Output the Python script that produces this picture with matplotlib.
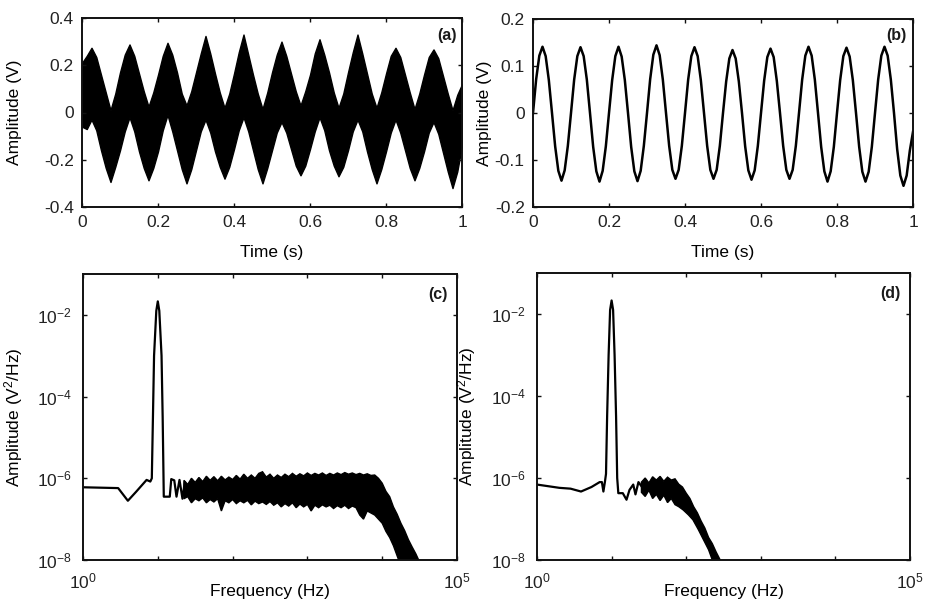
import numpy as np
import matplotlib
matplotlib.use("Agg")
import matplotlib.pyplot as plt
from matplotlib.ticker import FixedLocator, FuncFormatter, NullLocator

plt.rcParams['font.family'] = ['Liberation Sans', 'DejaVu Sans']
plt.rcParams['mathtext.fontset'] = 'custom'
plt.rcParams['mathtext.rm'] = 'Liberation Sans'
plt.rcParams['mathtext.it'] = 'Liberation Sans:italic'
plt.rcParams['mathtext.bf'] = 'Liberation Sans:bold'
plt.rcParams['text.color'] = '#1a1a1a'

# ---- panel (a): noisy signal, band envelope read every 1/8 cycle (12.5 ms)
a_upper = [
    0.21, 0.24, 0.274, 0.235, 0.16, 0.085, 0.01, 0.08,
    0.17, 0.245, 0.288, 0.24, 0.165, 0.09, 0.025, 0.085,
    0.16, 0.24, 0.295, 0.245, 0.17, 0.08, 0.03, 0.09,
    0.17, 0.25, 0.324, 0.25, 0.165, 0.085, 0.02, 0.08,
    0.165, 0.255, 0.33, 0.245, 0.16, 0.08, 0.015, 0.085,
    0.17, 0.245, 0.30, 0.24, 0.165, 0.09, 0.03, 0.09,
    0.16, 0.25, 0.31, 0.245, 0.17, 0.085, 0.02, 0.08,
    0.17, 0.255, 0.33, 0.25, 0.165, 0.08, 0.02, 0.085,
    0.165, 0.24, 0.274, 0.235, 0.16, 0.085, 0.015, 0.08,
    0.16, 0.235, 0.267, 0.23, 0.155, 0.08, 0.01, 0.075,
    0.12]
a_lower = [
    -0.06, -0.07, -0.03, -0.075, -0.16, -0.235, -0.294, -0.23,
    -0.16, -0.08, -0.02, -0.08, -0.165, -0.235, -0.287, -0.235,
    -0.165, -0.075, -0.01, -0.08, -0.16, -0.24, -0.30, -0.24,
    -0.16, -0.08, -0.03, -0.085, -0.165, -0.23, -0.28, -0.23,
    -0.155, -0.075, -0.02, -0.08, -0.16, -0.24, -0.30, -0.235,
    -0.16, -0.085, -0.04, -0.085, -0.155, -0.225, -0.266, -0.225,
    -0.155, -0.08, -0.02, -0.075, -0.16, -0.225, -0.27, -0.23,
    -0.16, -0.08, -0.03, -0.08, -0.165, -0.24, -0.30, -0.24,
    -0.165, -0.085, -0.03, -0.085, -0.16, -0.235, -0.287, -0.235,
    -0.165, -0.085, -0.04, -0.09, -0.17, -0.25, -0.32, -0.25,
    -0.14]
a_t = np.linspace(0, 1, len(a_upper))

# ---- panel (b): clean signal, 12 readings per cycle
b_values = [
    0.0, 0.072, 0.122, 0.141, 0.121, 0.070, 0.0, -0.071, -0.123, -0.144, -0.122, -0.070,
    0.0, 0.071, 0.121, 0.140, 0.121, 0.071, 0.0, -0.072, -0.124, -0.146, -0.123, -0.071,
    0.0, 0.070, 0.121, 0.141, 0.120, 0.070, 0.0, -0.072, -0.124, -0.145, -0.123, -0.070,
    0.0, 0.072, 0.124, 0.144, 0.123, 0.071, 0.0, -0.070, -0.121, -0.140, -0.121, -0.070,
    0.0, 0.071, 0.121, 0.140, 0.121, 0.070, 0.0, -0.070, -0.121, -0.140, -0.121, -0.070,
    0.0, 0.067, 0.116, 0.134, 0.116, 0.067, 0.0, -0.071, -0.122, -0.142, -0.122, -0.070,
    0.0, 0.069, 0.119, 0.137, 0.119, 0.068, 0.0, -0.070, -0.121, -0.140, -0.121, -0.070,
    0.0, 0.071, 0.122, 0.141, 0.122, 0.071, 0.0, -0.072, -0.124, -0.146, -0.124, -0.072,
    0.0, 0.070, 0.121, 0.139, 0.120, 0.070, 0.0, -0.072, -0.125, -0.146, -0.125, -0.072,
    0.0, 0.071, 0.122, 0.141, 0.122, 0.071, 0.0, -0.077, -0.133, -0.155, -0.133, -0.080,
    -0.04]
b_t = np.linspace(0, 1, len(b_values))

# ---- panel (c): PSD, log10(f) / log10(P)
c_line_f = [0.0, 0.47, 0.60, 0.71, 0.85, 0.90, 0.92, 0.935, 0.95, 0.98, 1.0, 1.02, 1.05, 1.065,
            1.08, 1.16, 1.18, 1.22, 1.25, 1.29, 1.33, 1.36]
c_line_p = [-6.22, -6.24, -6.55, -6.33, -6.04, -6.08, -6.0, -4.5, -3.0, -1.9, -1.67, -1.9, -3.0, -4.5,
            -6.45, -6.45, -6.02, -6.05, -6.45, -6.04, -6.5, -6.1]
c_up_f = [1.35, 1.40, 1.45, 1.50, 1.55, 1.60, 1.65, 1.70, 1.75, 1.80, 1.85, 1.90, 1.95, 2.00,
          2.05, 2.10, 2.15, 2.20, 2.25, 2.30, 2.35, 2.40, 2.45, 2.50, 2.55, 2.60, 2.65, 2.70,
          2.75, 2.80, 2.85, 2.90, 2.95, 3.00, 3.05, 3.10, 3.15, 3.20, 3.25, 3.30, 3.35, 3.40,
          3.45, 3.50, 3.55, 3.60, 3.65, 3.70, 3.75, 3.80, 3.85, 3.90, 3.95, 4.00, 4.05, 4.10,
          4.15, 4.20, 4.25, 4.30, 4.35, 4.40, 4.45, 4.50]
c_up_p = [-6.05, -6.15, -6.00, -6.10, -5.98, -6.08, -5.95, -6.05, -5.96, -6.06, -5.95, -6.04, -5.97, -6.03,
          -5.93, -6.02, -5.90, -6.00, -5.92, -6.00, -5.88, -5.84, -5.97, -5.90, -6.00, -5.92, -5.98, -5.90,
          -5.96, -5.88, -5.95, -5.89, -5.94, -5.87, -5.93, -5.88, -5.92, -5.87, -5.93, -5.88, -5.92, -5.87,
          -5.91, -5.86, -5.90, -5.87, -5.91, -5.88, -5.92, -5.89, -5.93, -5.92, -6.00, -6.12, -6.32, -6.45,
          -6.70, -6.88, -7.10, -7.28, -7.50, -7.68, -7.85, -8.05]
c_lo_f = [1.35, 1.40, 1.45, 1.50, 1.55, 1.60, 1.65, 1.70, 1.75, 1.80, 1.85, 1.90, 1.95, 2.00,
          2.05, 2.10, 2.15, 2.20, 2.25, 2.30, 2.35, 2.40, 2.45, 2.50, 2.55, 2.60, 2.65, 2.70,
          2.75, 2.80, 2.85, 2.90, 2.95, 3.00, 3.05, 3.10, 3.15, 3.20, 3.25, 3.30, 3.35, 3.40,
          3.45, 3.50, 3.55, 3.60, 3.65, 3.70, 3.75, 3.80, 3.85, 3.90, 3.95, 4.00, 4.05, 4.10,
          4.15, 4.20, 4.23]
c_lo_p = [-6.50, -6.45, -6.60, -6.50, -6.55, -6.48, -6.60, -6.52, -6.58, -6.50, -6.80, -6.55, -6.60, -6.52,
          -6.62, -6.55, -6.60, -6.54, -6.65, -6.56, -6.62, -6.58, -6.64, -6.57, -6.66, -6.60, -6.70, -6.62,
          -6.68, -6.60, -6.72, -6.63, -6.70, -6.64, -6.80, -6.66, -6.72, -6.65, -6.70, -6.66, -6.74, -6.67,
          -6.72, -6.66, -6.74, -6.68, -6.72, -6.90, -7.00, -6.80, -6.85, -6.90, -7.00, -7.10, -7.30, -7.45,
          -7.65, -7.90, -8.05]

# ---- panel (d): PSD, log10(f) / log10(P)
d_line_f = [0.0, 0.30, 0.45, 0.59, 0.73, 0.84, 0.87, 0.89, 0.91, 0.925, 0.94, 0.96, 0.98, 1.0,
            1.02, 1.04, 1.06, 1.075, 1.09, 1.15, 1.20, 1.24, 1.29, 1.32, 1.36, 1.40]
d_line_p = [-6.16, -6.24, -6.26, -6.33, -6.22, -6.10, -6.10, -6.33, -6.10, -5.9, -4.5, -3.0, -1.9, -1.67,
            -1.9, -3.0, -4.5, -6.0, -6.37, -6.37, -6.53, -6.29, -6.16, -6.40, -6.10, -6.20]
d_up_f = [1.40, 1.45, 1.50, 1.55, 1.60, 1.65, 1.70, 1.75, 1.80, 1.85, 1.90, 1.95, 2.00, 2.05,
          2.10, 2.15, 2.20, 2.25, 2.30, 2.35, 2.40, 2.47]
d_up_p = [-6.10, -6.00, -6.12, -5.97, -6.05, -5.96, -6.08, -5.98, -6.05, -6.02, -6.15, -6.22, -6.37, -6.50,
          -6.70, -6.85, -7.05, -7.22, -7.45, -7.60, -7.80, -8.05]
d_lo_f = [1.40, 1.45, 1.50, 1.55, 1.60, 1.65, 1.70, 1.75, 1.80, 1.85, 1.90, 1.96, 2.03, 2.09,
          2.16, 2.23, 2.30, 2.36]
d_lo_p = [-6.35, -6.45, -6.30, -6.50, -6.40, -6.55, -6.42, -6.60, -6.50, -6.65, -6.70, -6.78, -6.90, -7.02,
          -7.25, -7.50, -7.75, -8.05]

fig = plt.figure(figsize=(9.26, 6.03), dpi=100)
W, H = 926.0, 603.0


def make_axes(l, r, t, b):
    return fig.add_axes([l / W, 1 - b / H, (r - l) / W, (b - t) / H])


def style(ax):
    for s in ax.spines.values():
        s.set_linewidth(1.4)
        s.set_color('#111111')
    ax.tick_params(direction='in', top=True, right=True, length=3, width=1,
                   labelsize=12.5, colors='#111111', labelcolor='#222222', pad=6)


def panel_letter(ax, txt, x, y):
    ax.text(x, y, txt, transform=ax.transAxes, ha='right', va='center',
            fontsize=11.5, fontweight='bold')


ax_a = make_axes(82, 462, 18, 207)
ax_b = make_axes(533, 913, 19, 207)
ax_c = make_axes(83, 457, 274, 560)
ax_d = make_axes(537, 910, 273, 560)

# (a)
ax_a.fill_between(a_t, a_lower, a_upper, color='black', lw=1.0, edgecolor='black')
ax_a.set_xlim(0, 1)
ax_a.set_ylim(-0.4, 0.4)
ax_a.set_xticks([0, 0.2, 0.4, 0.6, 0.8, 1])
ax_a.set_xticklabels(['0', '0.2', '0.4', '0.6', '0.8', '1'])
ax_a.set_yticks([-0.4, -0.2, 0, 0.2, 0.4])
ax_a.set_yticklabels(['-0.4', '-0.2', '0', '0.2', '0.4'])
ax_a.set_xlabel('Time (s)', fontsize=12.5)
ax_a.set_ylabel('Amplitude (V)', fontsize=12.5)
ax_a.xaxis.set_label_coords(0.5, -0.2)
ax_a.yaxis.set_label_coords(-0.158, 0.5)
style(ax_a)
panel_letter(ax_a, '(a)', 0.987, 0.905)

# (b)
ax_b.plot(b_t, b_values, color='black', lw=1.8)
ax_b.set_xlim(0, 1)
ax_b.set_ylim(-0.2, 0.2)
ax_b.set_xticks([0, 0.2, 0.4, 0.6, 0.8, 1])
ax_b.set_xticklabels(['0', '0.2', '0.4', '0.6', '0.8', '1'])
ax_b.set_yticks([-0.2, -0.1, 0, 0.1, 0.2])
ax_b.set_yticklabels(['-0.2', '-0.1', '0', '0.1', '0.2'])
ax_b.set_xlabel('Time (s)', fontsize=12.5)
ax_b.set_ylabel('Amplitude (V)', fontsize=12.5)
ax_b.xaxis.set_label_coords(0.5, -0.2)
ax_b.yaxis.set_label_coords(-0.108, 0.5)
style(ax_b)
panel_letter(ax_b, '(b)', 0.984, 0.91)


def psd_panel(ax, lf, lp, uf, up, wf, wp, letter, lx):
    ax.set_xscale('log')
    ax.set_yscale('log')
    ax.plot(10 ** np.array(lf), 10 ** np.array(lp), color='black', lw=1.6)
    xs = np.r_[uf, wf[::-1]]
    ys = np.r_[up, wp[::-1]]
    ax.fill(10 ** xs, 10 ** ys, color='black', lw=1.0, edgecolor='black')
    ax.set_xlim(1, 1e5)
    ax.set_ylim(1e-8, 1e-1)
    ax.xaxis.set_major_locator(FixedLocator([1, 10, 100, 1e3, 1e4, 1e5]))
    ax.xaxis.set_major_formatter(FuncFormatter(
        lambda v, p: {1: '$10^0$', 100000: '$10^5$'}.get(int(round(v)), '')))
    ax.xaxis.set_minor_locator(NullLocator())
    ax.yaxis.set_major_locator(FixedLocator([1e-8, 1e-6, 1e-4, 1e-2]))
    ax.yaxis.set_major_formatter(FuncFormatter(
        lambda v, p: '$10^{-%d}$' % int(round(-np.log10(v)))))
    ax.yaxis.set_minor_locator(NullLocator())
    ax.set_xlabel('Frequency (Hz)', fontsize=12.5)
    ax.set_ylabel('Amplitude (V$^2$/Hz)', fontsize=12.5)
    ax.xaxis.set_label_coords(0.5, -0.085)
    ax.yaxis.set_label_coords(lx, 0.5)
    style(ax)
    ax.tick_params(pad=8)
    panel_letter(ax, letter, 0.975, 0.927)


psd_panel(ax_c, c_line_f, c_line_p, c_up_f, c_up_p, c_lo_f, c_lo_p, '(c)', -0.155)
psd_panel(ax_d, d_line_f, d_line_p, d_up_f, d_up_p, d_lo_f, d_lo_p, '(d)', -0.158)

fig.savefig('out.png', dpi=100)
